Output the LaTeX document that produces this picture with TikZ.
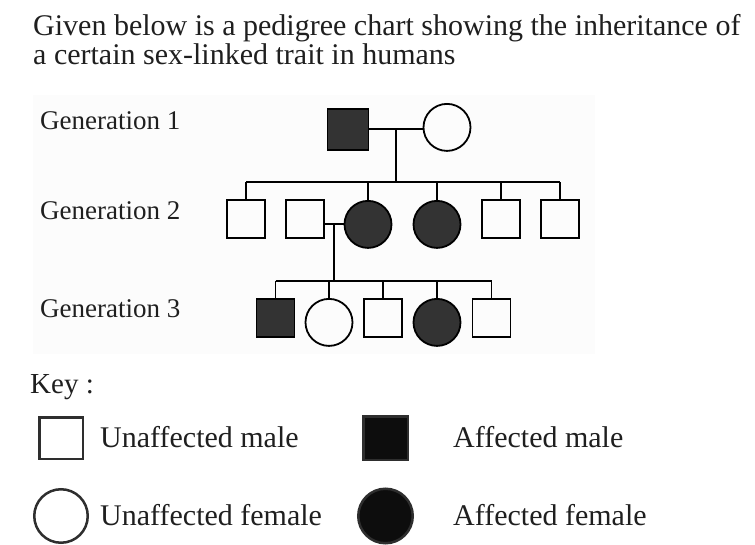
\documentclass[tikz,border=0pt]{standalone}
\usepackage{fontspec}
\setmainfont{Liberation Serif}

\begin{document}
\begin{tikzpicture}[x=1pt, y=-1pt]
\tikzstyle{male}=[rectangle, draw, line width=1.8pt, minimum size=38pt, inner sep=0pt, anchor=north]
\tikzstyle{female}=[circle, draw, line width=1.8pt, minimum size=47pt, inner sep=0pt, anchor=north]
\tikzstyle{ill}=[fill=black!80]
\tikzstyle{txt}=[anchor=base west, inner sep=0pt, text=black!88]
\tikzstyle{keysym}=[draw=black!82, line width=2.5pt, inner sep=0pt]

\useasboundingbox (0,0) rectangle (755,545);
\fill [black!1] (33,95) rectangle (595,354);

\node (title1) at (33,36) [txt, font=\fontsize{30}{36}\selectfont]
    {Given below is a pedigree chart showing the inheritance of};
\node (title2) at (33,65) [txt, font=\fontsize{30}{36}\selectfont]
    {a certain sex-linked trait in humans};

\node (gen1) at (40,130) [txt, font=\fontsize{27}{32}\selectfont] {Generation 1};
\node (gen2) at (40,220) [txt, font=\fontsize{27}{32}\selectfont] {Generation 2};
\node (gen3) at (40,318) [txt, font=\fontsize{27}{32}\selectfont] {Generation 3};

% generation 1
\node (1-0) at (348, 108) [male, ill, minimum size=41pt] {};
\node (1-1) at (447, 103) [female] {};

% generation 2
\node (2-0) at (246, 199) [male] {};
\node (2-1) at (305, 199) [male] {};
\node (2-2) at (368, 200) [female, ill] {};
\node (2-3) at (437, 200) [female, ill] {};
\node (2-4) at (501, 199) [male] {};
\node (2-5) at (560, 199) [male] {};

% generation 3
\node (3-0) at (275.5, 298) [male, ill] {};
\node (3-1) at (329, 298) [female] {};
\node (3-2) at (383, 298) [male] {};
\node (3-3) at (437, 298) [female, ill] {};
\node (3-4) at (491.5, 298) [male] {};

\draw [line width=1.8pt] (1-0.east) -- (1-0.east -| 1-1.west)
    coordinate [midway] (1-m);
\path (1-m) ++(0, 53) coordinate (2-s);
\draw [line width=1.8pt] (1-m) -- (2-s);
\draw [line width=1.8pt] (2-0.north |- 2-s) -- (2-5.north |- 2-s);
\foreach \i in {0,2,3,4,5}
    \draw [line width=1.8pt] (2-\i.north |- 2-s) -- (2-\i.north);

\draw [line width=1.8pt] (2-1.east |- 2-2.west) -- (2-2.west)
    coordinate [midway] (2-m);
\path (2-m) ++(0, 57) coordinate (3-s);
\draw [line width=1.8pt] (2-m) -- (3-s);
\draw [line width=1.8pt] (3-0.north |- 3-s) -- (3-4.north |- 3-s);
\foreach \i in {0,...,4}
    \draw [line width=1.8pt] (3-\i.north |- 3-s) -- (3-\i.north);

% key
\node (key) at (30,393) [txt, font=\fontsize{29}{35}\selectfont] {Key :};

\node (k-um) at (61, 438) [keysym, rectangle, minimum width=43.5pt, minimum height=41.5pt] {};
\node (k-uf) at (61, 516) [keysym, circle, minimum size=53.5pt] {};
\node (k-am) at (385.5, 438) [keysym, rectangle, fill=black!95, minimum width=44.5pt, minimum height=43.5pt] {};
\node (k-af) at (385.5, 516) [keysym, circle, fill=black!95, minimum size=54.5pt] {};

\node (l-um) at (100,447) [txt, font=\fontsize{30}{36}\selectfont] {Unaffected male};
\node (l-uf) at (100,525) [txt, font=\fontsize{30}{36}\selectfont] {Unaffected female};
\node (l-am) at (453,447) [txt, font=\fontsize{30}{36}\selectfont] {Affected male};
\node (l-af) at (453,525) [txt, font=\fontsize{30}{36}\selectfont] {Affected female};

\end{tikzpicture}
\end{document}
